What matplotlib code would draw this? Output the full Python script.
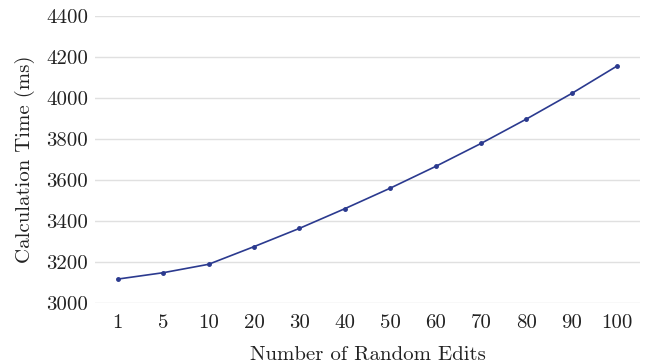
import matplotlib
matplotlib.use("Agg")
import matplotlib.pyplot as plt

categories = ["1", "5", "10", "20", "30", "40", "50", "60", "70", "80", "90", "100"]
calc_time = [3118, 3149, 3190, 3276, 3365, 3461, 3561, 3667, 3779, 3898, 4023, 4157]
y_ticks = [3000, 3200, 3400, 3600, 3800, 4000, 4200, 4400]

plt.rcParams['font.family'] = ['cmr10', 'DejaVu Serif']
plt.rcParams['axes.formatter.use_mathtext'] = True
plt.rcParams['mathtext.fontset'] = 'cm'

fig = plt.figure(figsize=(6.47, 3.64), dpi=100)
ax = fig.add_axes([95/647, 1 - 303.3/364, (640-95)/647, (303.3-16)/364])

xs = list(range(len(categories)))
ax.plot(xs, calc_time, color='#2b3a8f', linewidth=1.2, marker='o', markersize=2.5, zorder=3)

ax.set_xlim(-0.5, len(categories) - 0.5)
ax.set_ylim(3000, 4400)
ax.set_yticks(y_ticks)
ax.set_yticklabels([str(v) for v in y_ticks])
ax.set_xticks(xs)
ax.set_xticklabels(categories)

ax.grid(axis='y', color='#e0e0e0', linewidth=1.0)
ax.set_axisbelow(True)
for s in ax.spines.values():
    s.set_visible(False)
ax.tick_params(axis='both', length=0, labelsize=15, colors='#222222')
ax.tick_params(axis='y', pad=5)
ax.tick_params(axis='x', pad=8)

ax.set_xlabel("Number of Random Edits", fontsize=15, labelpad=10, color='#222222')
ax.set_ylabel("Calculation Time (ms)", fontsize=15, labelpad=8, color='#222222')

fig.savefig("out.png", dpi=100)
